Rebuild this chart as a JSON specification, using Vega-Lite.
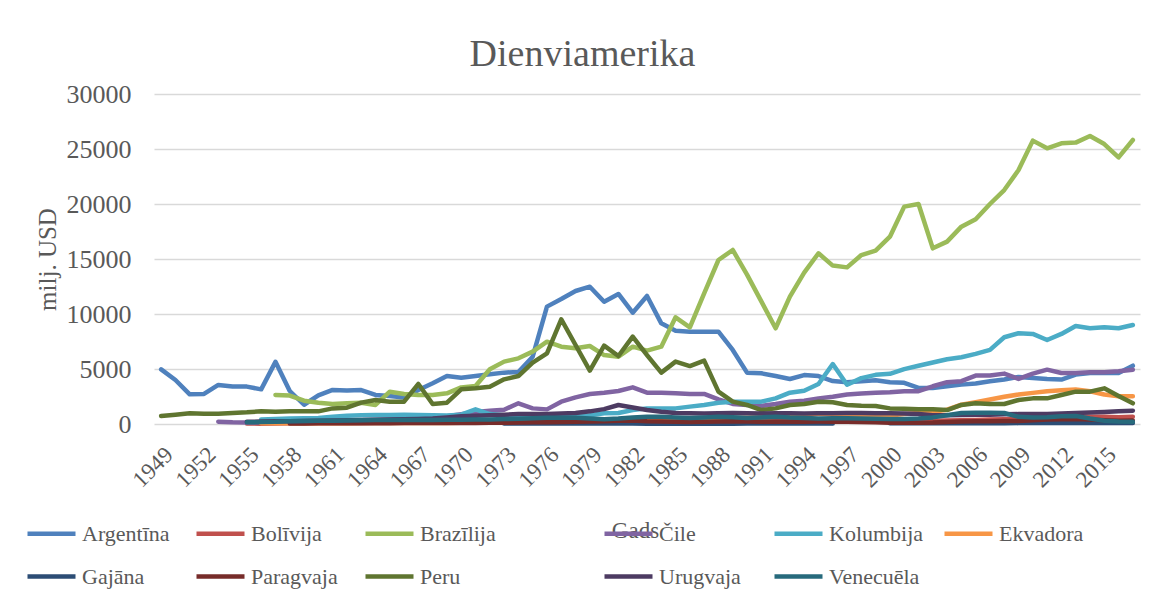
{
  "$schema": "https://vega.github.io/schema/vega-lite/v6.json",
  "width": 986,
  "height": 330,
  "autosize": {"type": "none"},
  "padding": {"left": 154, "top": 94, "right": 25, "bottom": 168},
  "background": "white",
  "title": {"text": "Dienviamerika", "font": "Liberation Serif", "fontSize": 38, "fontWeight": "normal", "color": "#595959", "anchor": "middle", "frame": "bounds", "offset": 7},
  "config": {
    "view": {"stroke": null},
    "line": {"strokeWidth": 4.5, "strokeCap": "round", "strokeJoin": "round"}
  },
  "datasets": {
    "arg": [
      {"year":1949,"value":4970},{"year":1950,"value":4000},{"year":1951,"value":2700},{"year":1952,"value":2730},{"year":1953,"value":3550},{"year":1954,"value":3400},{"year":1955,"value":3400},{"year":1956,"value":3150},{"year":1957,"value":5650},{"year":1958,"value":3000},{"year":1959,"value":1750},{"year":1960,"value":2600},{"year":1961,"value":3100},{"year":1962,"value":3050},{"year":1963,"value":3090},{"year":1964,"value":2640},{"year":1965,"value":2550},{"year":1966,"value":2400},{"year":1967,"value":3090},{"year":1968,"value":3700},{"year":1969,"value":4360},{"year":1970,"value":4210},{"year":1971,"value":4360},{"year":1972,"value":4520},{"year":1973,"value":4670},{"year":1974,"value":4730},{"year":1975,"value":6120},{"year":1976,"value":10670},{"year":1977,"value":11360},{"year":1978,"value":12090},{"year":1979,"value":12480},{"year":1980,"value":11120},{"year":1981,"value":11820},{"year":1982,"value":10120},{"year":1983,"value":11640},{"year":1984,"value":9150},{"year":1985,"value":8480},{"year":1986,"value":8390},{"year":1987,"value":8390},{"year":1988,"value":8390},{"year":1989,"value":6730},{"year":1990,"value":4670},{"year":1991,"value":4610},{"year":1992,"value":4360},{"year":1993,"value":4090},{"year":1994,"value":4450},{"year":1995,"value":4360},{"year":1996,"value":3900},{"year":1997,"value":3800},{"year":1998,"value":3890},{"year":1999,"value":3980},{"year":2000,"value":3800},{"year":2001,"value":3740},{"year":2002,"value":3280},{"year":2003,"value":3280},{"year":2004,"value":3430},{"year":2005,"value":3580},{"year":2006,"value":3680},{"year":2007,"value":3890},{"year":2008,"value":4040},{"year":2009,"value":4280},{"year":2010,"value":4190},{"year":2011,"value":4100},{"year":2012,"value":4040},{"year":2013,"value":4490},{"year":2014,"value":4640},{"year":2015,"value":4640},{"year":2016,"value":4640},{"year":2017,"value":5300}
    ],
    "bol": [
      {"year":1955,"value":50},{"year":1956,"value":30},{"year":1957,"value":40},{"year":1958,"value":60},{"year":1959,"value":70},{"year":1960,"value":80},{"year":1961,"value":90},{"year":1962,"value":100},{"year":1963,"value":100},{"year":1964,"value":110},{"year":1965,"value":110},{"year":1966,"value":120},{"year":1967,"value":120},{"year":1968,"value":130},{"year":1969,"value":130},{"year":1970,"value":140},{"year":1971,"value":150},{"year":1972,"value":160},{"year":1973,"value":170},{"year":1974,"value":180},{"year":1975,"value":190},{"year":1976,"value":200},{"year":1977,"value":210},{"year":1978,"value":220},{"year":1979,"value":230},{"year":1980,"value":220},{"year":1981,"value":230},{"year":1982,"value":240},{"year":1983,"value":220},{"year":1984,"value":210},{"year":1985,"value":200},{"year":1986,"value":200},{"year":1987,"value":210},{"year":1988,"value":220},{"year":1989,"value":220},{"year":1990,"value":230},{"year":1991,"value":240},{"year":1992,"value":250},{"year":1993,"value":260},{"year":1994,"value":270},{"year":1995,"value":280},{"year":1996,"value":290},{"year":1997,"value":300},{"year":1998,"value":310},{"year":1999,"value":300},{"year":2000,"value":300},{"year":2001,"value":290},{"year":2002,"value":290},{"year":2003,"value":300},{"year":2004,"value":320},{"year":2005,"value":340},{"year":2006,"value":370},{"year":2007,"value":400},{"year":2008,"value":430},{"year":2009,"value":450},{"year":2010,"value":480},{"year":2011,"value":530},{"year":2012,"value":600},{"year":2013,"value":680},{"year":2014,"value":650},{"year":2015,"value":650},{"year":2016,"value":620},{"year":2017,"value":660}
    ],
    "bra": [
      {"year":1957,"value":2640},{"year":1958,"value":2580},{"year":1959,"value":2120},{"year":1960,"value":1940},{"year":1961,"value":1820},{"year":1962,"value":1880},{"year":1963,"value":1940},{"year":1964,"value":1730},{"year":1965,"value":2940},{"year":1966,"value":2730},{"year":1967,"value":2640},{"year":1968,"value":2640},{"year":1969,"value":2790},{"year":1970,"value":3330},{"year":1971,"value":3450},{"year":1972,"value":4970},{"year":1973,"value":5670},{"year":1974,"value":5970},{"year":1975,"value":6580},{"year":1976,"value":7480},{"year":1977,"value":7030},{"year":1978,"value":6880},{"year":1979,"value":7090},{"year":1980,"value":6270},{"year":1981,"value":6120},{"year":1982,"value":7030},{"year":1983,"value":6670},{"year":1984,"value":7030},{"year":1985,"value":9700},{"year":1986,"value":8790},{"year":1987,"value":11880},{"year":1988,"value":14910},{"year":1989,"value":15820},{"year":1990,"value":13580},{"year":1991,"value":11150},{"year":1992,"value":8700},{"year":1993,"value":11580},{"year":1994,"value":13760},{"year":1995,"value":15520},{"year":1996,"value":14400},{"year":1997,"value":14240},{"year":1998,"value":15360},{"year":1999,"value":15760},{"year":2000,"value":17030},{"year":2001,"value":19760},{"year":2002,"value":20000},{"year":2003,"value":15970},{"year":2004,"value":16580},{"year":2005,"value":17940},{"year":2006,"value":18610},{"year":2007,"value":20000},{"year":2008,"value":21270},{"year":2009,"value":23090},{"year":2010,"value":25760},{"year":2011,"value":25060},{"year":2012,"value":25520},{"year":2013,"value":25580},{"year":2014,"value":26180},{"year":2015,"value":25450},{"year":2016,"value":24240},{"year":2017,"value":25820}
    ],
    "chi": [
      {"year":1953,"value":210},{"year":1954,"value":150},{"year":1955,"value":130},{"year":1956,"value":150},{"year":1957,"value":180},{"year":1958,"value":200},{"year":1959,"value":220},{"year":1960,"value":250},{"year":1961,"value":280},{"year":1962,"value":300},{"year":1963,"value":330},{"year":1964,"value":360},{"year":1965,"value":400},{"year":1966,"value":450},{"year":1967,"value":500},{"year":1968,"value":600},{"year":1969,"value":700},{"year":1970,"value":900},{"year":1971,"value":1100},{"year":1972,"value":1200},{"year":1973,"value":1300},{"year":1974,"value":1880},{"year":1975,"value":1420},{"year":1976,"value":1330},{"year":1977,"value":2030},{"year":1978,"value":2420},{"year":1979,"value":2730},{"year":1980,"value":2850},{"year":1981,"value":3000},{"year":1982,"value":3330},{"year":1983,"value":2850},{"year":1984,"value":2850},{"year":1985,"value":2790},{"year":1986,"value":2730},{"year":1987,"value":2730},{"year":1988,"value":2240},{"year":1989,"value":1820},{"year":1990,"value":1730},{"year":1991,"value":1640},{"year":1992,"value":1820},{"year":1993,"value":2030},{"year":1994,"value":2120},{"year":1995,"value":2330},{"year":1996,"value":2480},{"year":1997,"value":2680},{"year":1998,"value":2770},{"year":1999,"value":2830},{"year":2000,"value":2890},{"year":2001,"value":2980},{"year":2002,"value":2980},{"year":2003,"value":3430},{"year":2004,"value":3800},{"year":2005,"value":3890},{"year":2006,"value":4400},{"year":2007,"value":4400},{"year":2008,"value":4580},{"year":2009,"value":4100},{"year":2010,"value":4580},{"year":2011,"value":4940},{"year":2012,"value":4640},{"year":2013,"value":4640},{"year":2014,"value":4700},{"year":2015,"value":4700},{"year":2016,"value":4790},{"year":2017,"value":4940}
    ],
    "col": [
      {"year":1956,"value":400},{"year":1957,"value":450},{"year":1958,"value":500},{"year":1959,"value":520},{"year":1960,"value":550},{"year":1961,"value":650},{"year":1962,"value":750},{"year":1963,"value":800},{"year":1964,"value":820},{"year":1965,"value":820},{"year":1966,"value":850},{"year":1967,"value":820},{"year":1968,"value":800},{"year":1969,"value":780},{"year":1970,"value":850},{"year":1971,"value":1330},{"year":1972,"value":900},{"year":1973,"value":800},{"year":1974,"value":750},{"year":1975,"value":700},{"year":1976,"value":700},{"year":1977,"value":700},{"year":1978,"value":750},{"year":1979,"value":800},{"year":1980,"value":970},{"year":1981,"value":1000},{"year":1982,"value":1270},{"year":1983,"value":1420},{"year":1984,"value":1420},{"year":1985,"value":1420},{"year":1986,"value":1580},{"year":1987,"value":1730},{"year":1988,"value":1940},{"year":1989,"value":2030},{"year":1990,"value":2030},{"year":1991,"value":2030},{"year":1992,"value":2330},{"year":1993,"value":2850},{"year":1994,"value":3030},{"year":1995,"value":3640},{"year":1996,"value":5450},{"year":1997,"value":3570},{"year":1998,"value":4170},{"year":1999,"value":4470},{"year":2000,"value":4560},{"year":2001,"value":4990},{"year":2002,"value":5290},{"year":2003,"value":5590},{"year":2004,"value":5890},{"year":2005,"value":6070},{"year":2006,"value":6370},{"year":2007,"value":6740},{"year":2008,"value":7890},{"year":2009,"value":8250},{"year":2010,"value":8190},{"year":2011,"value":7640},{"year":2012,"value":8190},{"year":2013,"value":8910},{"year":2014,"value":8700},{"year":2015,"value":8790},{"year":2016,"value":8700},{"year":2017,"value":9000}
    ],
    "ecu": [
      {"year":1956,"value":60},{"year":1957,"value":60},{"year":1958,"value":60},{"year":1959,"value":60},{"year":1960,"value":70},{"year":1961,"value":70},{"year":1962,"value":70},{"year":1963,"value":80},{"year":1964,"value":80},{"year":1965,"value":80},{"year":1966,"value":90},{"year":1967,"value":90},{"year":1968,"value":100},{"year":1969,"value":100},{"year":1970,"value":110},{"year":1971,"value":130},{"year":1972,"value":160},{"year":1973,"value":200},{"year":1974,"value":220},{"year":1975,"value":240},{"year":1976,"value":260},{"year":1977,"value":280},{"year":1978,"value":300},{"year":1979,"value":320},{"year":1980,"value":340},{"year":1981,"value":360},{"year":1982,"value":380},{"year":1983,"value":360},{"year":1984,"value":380},{"year":1985,"value":400},{"year":1986,"value":420},{"year":1987,"value":450},{"year":1988,"value":480},{"year":1989,"value":520},{"year":1990,"value":560},{"year":1991,"value":600},{"year":1992,"value":650},{"year":1993,"value":700},{"year":1994,"value":800},{"year":1995,"value":950},{"year":1996,"value":900},{"year":1997,"value":850},{"year":1998,"value":800},{"year":1999,"value":750},{"year":2000,"value":780},{"year":2001,"value":900},{"year":2002,"value":1000},{"year":2003,"value":1100},{"year":2004,"value":1300},{"year":2005,"value":1750},{"year":2006,"value":1990},{"year":2007,"value":2230},{"year":2008,"value":2470},{"year":2009,"value":2680},{"year":2010,"value":2830},{"year":2011,"value":2980},{"year":2012,"value":3070},{"year":2013,"value":3130},{"year":2014,"value":2980},{"year":2015,"value":2680},{"year":2016,"value":2530},{"year":2017,"value":2530}
    ],
    "guy": [
      {"year":1973,"value":40},{"year":1974,"value":40},{"year":1975,"value":50},{"year":1976,"value":50},{"year":1977,"value":50},{"year":1978,"value":40},{"year":1979,"value":40},{"year":1980,"value":40},{"year":1981,"value":40},{"year":1982,"value":40},{"year":1983,"value":30},{"year":1984,"value":30},{"year":1985,"value":30},{"year":1986,"value":30},{"year":1987,"value":30},{"year":1988,"value":30},{"year":1989,"value":30},{"year":1990,"value":40},{"year":1991,"value":40},{"year":1992,"value":40},{"year":1993,"value":40},{"year":1994,"value":50},{"year":1995,"value":50},{"year":1996,"value":50},
      {"year":1997,"value":null},
      {"year":2000,"value":60},{"year":2001,"value":60},{"year":2002,"value":60},{"year":2003,"value":60},{"year":2004,"value":60},{"year":2005,"value":70},{"year":2006,"value":70},{"year":2007,"value":70},{"year":2008,"value":70},{"year":2009,"value":80},{"year":2010,"value":80},{"year":2011,"value":90},{"year":2012,"value":90},{"year":2013,"value":90},{"year":2014,"value":80},{"year":2015,"value":80},{"year":2016,"value":80},{"year":2017,"value":80}
    ],
    "par": [
      {"year":1958,"value":50},{"year":1959,"value":50},{"year":1960,"value":60},{"year":1961,"value":60},{"year":1962,"value":60},{"year":1963,"value":70},{"year":1964,"value":70},{"year":1965,"value":70},{"year":1966,"value":80},{"year":1967,"value":80},{"year":1968,"value":80},{"year":1969,"value":90},{"year":1970,"value":90},{"year":1971,"value":100},{"year":1972,"value":110},{"year":1973,"value":120},{"year":1974,"value":130},{"year":1975,"value":150},{"year":1976,"value":160},{"year":1977,"value":180},{"year":1978,"value":200},{"year":1979,"value":220},{"year":1980,"value":250},{"year":1981,"value":300},{"year":1982,"value":320},{"year":1983,"value":250},{"year":1984,"value":220},{"year":1985,"value":200},{"year":1986,"value":190},{"year":1987,"value":200},{"year":1988,"value":220},{"year":1989,"value":250},{"year":1990,"value":230},{"year":1991,"value":210},{"year":1992,"value":200},{"year":1993,"value":200},{"year":1994,"value":210},{"year":1995,"value":220},{"year":1996,"value":210},{"year":1997,"value":200},{"year":1998,"value":180},{"year":1999,"value":150},{"year":2000,"value":120},{"year":2001,"value":120},{"year":2002,"value":110},{"year":2003,"value":130},{"year":2004,"value":180},{"year":2005,"value":220},{"year":2006,"value":240},{"year":2007,"value":260},{"year":2008,"value":270},{"year":2009,"value":280},{"year":2010,"value":330},{"year":2011,"value":400},{"year":2012,"value":440},{"year":2013,"value":450},{"year":2014,"value":400},{"year":2015,"value":340},{"year":2016,"value":300},{"year":2017,"value":320}
    ],
    "per": [
      {"year":1949,"value":730},{"year":1950,"value":850},{"year":1951,"value":970},{"year":1952,"value":940},{"year":1953,"value":940},{"year":1954,"value":1000},{"year":1955,"value":1060},{"year":1956,"value":1150},{"year":1957,"value":1120},{"year":1958,"value":1150},{"year":1959,"value":1150},{"year":1960,"value":1150},{"year":1961,"value":1420},{"year":1962,"value":1480},{"year":1963,"value":1940},{"year":1964,"value":2180},{"year":1965,"value":2030},{"year":1966,"value":2030},{"year":1967,"value":3640},{"year":1968,"value":1820},{"year":1969,"value":1940},{"year":1970,"value":3150},{"year":1971,"value":3240},{"year":1972,"value":3390},{"year":1973,"value":4060},{"year":1974,"value":4360},{"year":1975,"value":5580},{"year":1976,"value":6420},{"year":1977,"value":9520},{"year":1978,"value":7180},{"year":1979,"value":4850},{"year":1980,"value":7120},{"year":1981,"value":6180},{"year":1982,"value":7940},{"year":1983,"value":6270},{"year":1984,"value":4670},{"year":1985,"value":5670},{"year":1986,"value":5270},{"year":1987,"value":5760},{"year":1988,"value":2940},{"year":1989,"value":2030},{"year":1990,"value":1730},{"year":1991,"value":1270},{"year":1992,"value":1420},{"year":1993,"value":1730},{"year":1994,"value":1820},{"year":1995,"value":2030},{"year":1996,"value":1970},{"year":1997,"value":1730},{"year":1998,"value":1670},{"year":1999,"value":1640},{"year":2000,"value":1420},{"year":2001,"value":1390},{"year":2002,"value":1330},{"year":2003,"value":1330},{"year":2004,"value":1270},{"year":2005,"value":1730},{"year":2006,"value":1880},{"year":2007,"value":1820},{"year":2008,"value":1820},{"year":2009,"value":2180},{"year":2010,"value":2330},{"year":2011,"value":2330},{"year":2012,"value":2640},{"year":2013,"value":2940},{"year":2014,"value":2940},{"year":2015,"value":3240},{"year":2016,"value":2550},{"year":2017,"value":1880}
    ],
    "uru": [
      {"year":1955,"value":200},{"year":1956,"value":220},{"year":1957,"value":240},{"year":1958,"value":260},{"year":1959,"value":280},{"year":1960,"value":300},{"year":1961,"value":320},{"year":1962,"value":340},{"year":1963,"value":360},{"year":1964,"value":380},{"year":1965,"value":400},{"year":1966,"value":430},{"year":1967,"value":460},{"year":1968,"value":500},{"year":1969,"value":600},{"year":1970,"value":700},{"year":1971,"value":750},{"year":1972,"value":800},{"year":1973,"value":850},{"year":1974,"value":900},{"year":1975,"value":900},{"year":1976,"value":900},{"year":1977,"value":950},{"year":1978,"value":1000},{"year":1979,"value":1150},{"year":1980,"value":1350},{"year":1981,"value":1730},{"year":1982,"value":1500},{"year":1983,"value":1270},{"year":1984,"value":1120},{"year":1985,"value":1000},{"year":1986,"value":970},{"year":1987,"value":960},{"year":1988,"value":980},{"year":1989,"value":1000},{"year":1990,"value":970},{"year":1991,"value":960},{"year":1992,"value":980},{"year":1993,"value":970},{"year":1994,"value":960},{"year":1995,"value":970},{"year":1996,"value":980},{"year":1997,"value":990},{"year":1998,"value":1000},{"year":1999,"value":980},{"year":2000,"value":970},{"year":2001,"value":950},{"year":2002,"value":900},{"year":2003,"value":800},{"year":2004,"value":800},{"year":2005,"value":820},{"year":2006,"value":850},{"year":2007,"value":850},{"year":2008,"value":880},{"year":2009,"value":900},{"year":2010,"value":900},{"year":2011,"value":920},{"year":2012,"value":950},{"year":2013,"value":1000},{"year":2014,"value":1050},{"year":2015,"value":1100},{"year":2016,"value":1150},{"year":2017,"value":1210}
    ],
    "ven": [
      {"year":1955,"value":150},{"year":1956,"value":180},{"year":1957,"value":200},{"year":1958,"value":250},{"year":1959,"value":280},{"year":1960,"value":300},{"year":1961,"value":300},{"year":1962,"value":320},{"year":1963,"value":340},{"year":1964,"value":360},{"year":1965,"value":360},{"year":1966,"value":360},{"year":1967,"value":360},{"year":1968,"value":360},{"year":1969,"value":380},{"year":1970,"value":380},{"year":1971,"value":400},{"year":1972,"value":420},{"year":1973,"value":450},{"year":1974,"value":480},{"year":1975,"value":520},{"year":1976,"value":575},{"year":1977,"value":575},{"year":1978,"value":575},{"year":1979,"value":500},{"year":1980,"value":430},{"year":1981,"value":500},{"year":1982,"value":600},{"year":1983,"value":670},{"year":1984,"value":650},{"year":1985,"value":600},{"year":1986,"value":550},{"year":1987,"value":600},{"year":1988,"value":650},{"year":1989,"value":620},{"year":1990,"value":550},{"year":1991,"value":600},{"year":1992,"value":650},{"year":1993,"value":580},{"year":1994,"value":550},{"year":1995,"value":500},{"year":1996,"value":520},{"year":1997,"value":520},{"year":1998,"value":500},{"year":1999,"value":480},{"year":2000,"value":450},{"year":2001,"value":450},{"year":2002,"value":500},{"year":2003,"value":600},{"year":2004,"value":800},{"year":2005,"value":1000},{"year":2006,"value":1030},{"year":2007,"value":1030},{"year":2008,"value":1000},{"year":2009,"value":650},{"year":2010,"value":600},{"year":2011,"value":620},{"year":2012,"value":700},{"year":2013,"value":730},{"year":2014,"value":500},{"year":2015,"value":300},{"year":2016,"value":220},{"year":2017,"value":210}
    ]
  },
  "encoding": {
    "x": {
      "field": "year", "type": "quantitative",
      "scale": {"domain": [1948.5, 2017.5], "nice": false, "zero": false},
      "axis": {
        "values": [1949,1952,1955,1958,1961,1964,1967,1970,1973,1976,1979,1982,1985,1988,1991,1994,1997,2000,2003,2006,2009,2012,2015],
        "format": "d", "labelAngle": -45, "labelOverlap": false, "grid": false, "ticks": false, "domain": false,
        "labelFont": "Liberation Serif", "labelFontSize": 23, "labelColor": "#595959", "labelPadding": 19,
        "title": "Gads", "titleFont": "Liberation Serif", "titleFontSize": 23, "titleFontWeight": "normal", "titleColor": "#595959",
        "titleX": 481, "titleY": 113, "titleBaseline": "alphabetic", "titleAlign": "center"
      }
    },
    "y": {
      "field": "value", "type": "quantitative",
      "scale": {"domain": [0, 30000], "nice": false},
      "axis": {
        "values": [0,5000,10000,15000,20000,25000,30000], "format": "d",
        "gridColor": "#D9D9D9", "gridWidth": 1.3, "ticks": false, "domain": false,
        "labelFont": "Liberation Serif", "labelFontSize": 26, "labelColor": "#595959", "labelPadding": 23,
        "title": "milj. USD", "titleFont": "Liberation Serif", "titleFontSize": 25, "titleFontWeight": "normal", "titleColor": "#595959", "titlePadding": 6
      }
    }
  },
  "layer": [
    {"data": {"name": "arg"}, "mark": "line", "encoding": {"color": {"datum": "Argentīna",
      "scale": {"domain": ["Argentīna","Bolīvija","Brazīlija","Gajāna","Paragvaja","Peru"], "range": ["#4F81BD","#C0504D","#9BBB59","#2C4D75","#772C2A","#5F7530"]},
      "legend": {"orient": "none", "legendX": -129, "legendY": 413, "direction": "horizontal", "columns": 3, "gridAlign": "all", "symbolType": "stroke", "symbolSize": 2304, "symbolStrokeWidth": 4.5, "labelFont": "Liberation Serif", "labelFontSize": 22, "labelColor": "#595959", "labelOffset": 4, "columnPadding": 24, "rowPadding": 5, "title": null, "padding": 0, "labelLimit": 300}}}},
    {"data": {"name": "bol"}, "mark": "line", "encoding": {"color": {"datum": "Bolīvija"}}},
    {"data": {"name": "bra"}, "mark": "line", "encoding": {"color": {"datum": "Brazīlija"}}},
    {"data": {"name": "chi"}, "mark": "line", "encoding": {"stroke": {"datum": "Čile",
      "scale": {"domain": ["Čile","Kolumbija","Ekvadora","Urugvaja","Venecuēla"], "range": ["#8064A2","#4BACC6","#F79646","#4D3B62","#276A7C"]},
      "legend": {"orient": "none", "legendX": 448, "legendY": 413, "direction": "horizontal", "columns": 3, "gridAlign": "all", "symbolType": "stroke", "symbolSize": 2304, "symbolStrokeWidth": 4.5, "labelFont": "Liberation Serif", "labelFontSize": 22, "labelColor": "#595959", "labelOffset": 4, "columnPadding": 18, "rowPadding": 5, "title": null, "padding": 0, "labelLimit": 300}}}},
    {"data": {"name": "col"}, "mark": "line", "encoding": {"stroke": {"datum": "Kolumbija"}}},
    {"data": {"name": "ecu"}, "mark": "line", "encoding": {"stroke": {"datum": "Ekvadora"}}},
    {"data": {"name": "guy"}, "mark": "line", "encoding": {"color": {"datum": "Gajāna"}}},
    {"data": {"name": "par"}, "mark": "line", "encoding": {"color": {"datum": "Paragvaja"}}},
    {"data": {"name": "per"}, "mark": "line", "encoding": {"color": {"datum": "Peru"}}},
    {"data": {"name": "uru"}, "mark": "line", "encoding": {"stroke": {"datum": "Urugvaja"}}},
    {"data": {"name": "ven"}, "mark": "line", "encoding": {"stroke": {"datum": "Venecuēla"}}}
  ]
}
